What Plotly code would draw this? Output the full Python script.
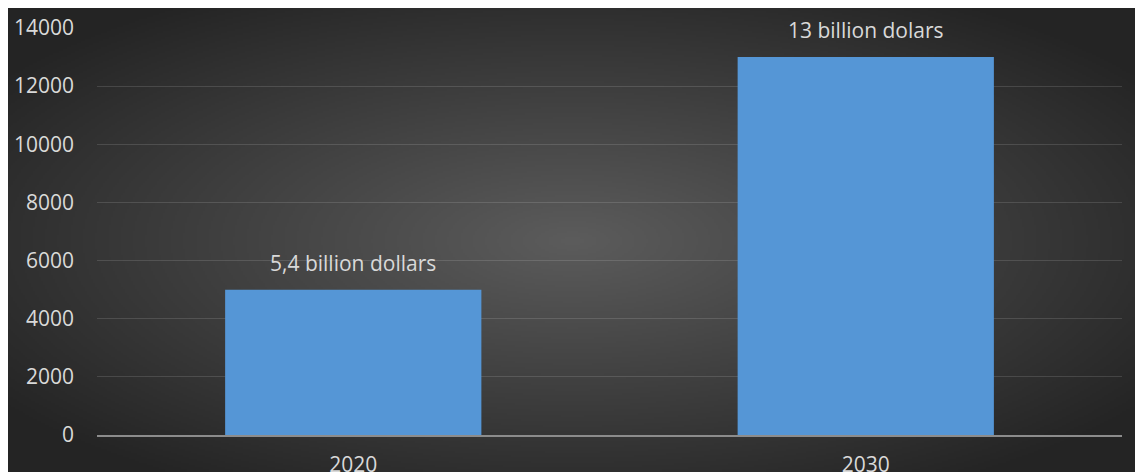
import base64, struct, zlib
import numpy as np
import plotly.graph_objects as go

# ---- data ----
categories = ["2020", "2030"]
values = [5000, 13000]
value_labels = ["5,4 billion dollars", "13 billion dolars"]
y_ticks = [0, 2000, 4000, 6000, 8000, 10000, 12000, 14000]
y_tick_text = [str(v) for v in y_ticks]

# ---- layout geometry (pixels) ----
W, H = 1135, 472
ML, MR, MT, MB = 97, 13, 28, 37
PW, PH = W - ML - MR, H - MT - MB
DARK_X0, DARK_Y0 = 8, 8  # white strip on left/top
FONT = "Open Sans"
FS = 21
TXT = "#d9d9d9"


def png_gray(arr):
    h, w = arr.shape
    raw = b"".join(b"\x00" + arr[i].tobytes() for i in range(h))

    def chunk(t, d):
        c = struct.pack(">I", len(d)) + t + d
        return c + struct.pack(">I", zlib.crc32(t + d) & 0xFFFFFFFF)

    return (b"\x89PNG\r\n\x1a\n"
            + chunk(b"IHDR", struct.pack(">IIBBBBB", w, h, 8, 0, 0, 0, 0))
            + chunk(b"IDAT", zlib.compress(raw, 9))
            + chunk(b"IEND", b""))


# radial background gradient (style only)
gw, gh = (W - DARK_X0) // 2, (H - DARK_Y0) // 2
yy, xx = np.mgrid[0:gh, 0:gw]
dx = (xx - gw / 2) / (gw / 2)
dy = (yy - gh / 2) / (gh / 2)
d = np.clip(np.sqrt(dx ** 2 + dy ** 2) / 1.25, 0, 1)
img = (92 - 56 * d).astype(np.uint8)
bg_uri = "data:image/png;base64," + base64.b64encode(png_gray(img)).decode()

fig = go.Figure()
fig.add_trace(go.Bar(
    x=categories, y=values,
    marker=dict(color="#5596d6", line=dict(width=0)),
    hoverinfo="skip",
))

# annotations placed by category index (avoids "2020" being read as index 2020)
for i, (v, t) in enumerate(zip(values, value_labels)):
    fig.add_annotation(x=i, y=v, text=t, showarrow=False, yshift=27,
                       font=dict(family=FONT, size=FS, color=TXT))

fig.add_layout_image(dict(
    source=bg_uri, xref="paper", yref="paper",
    x=(DARK_X0 - ML) / PW, y=(H - MB - DARK_Y0) / PH,
    sizex=(W - DARK_X0) / PW, sizey=(H - DARK_Y0) / PH,
    xanchor="left", yanchor="top", sizing="stretch", layer="below",
))

fig.update_layout(
    width=W, height=H,
    margin=dict(l=ML, r=MR, t=MT, b=MB, autoexpand=False),
    paper_bgcolor="white", plot_bgcolor="rgba(0,0,0,0)",
    bargap=0.5, showlegend=False,
    font=dict(family=FONT, size=FS, color=TXT),
)
fig.update_xaxes(type="category", range=[-0.5, len(categories) - 0.5], automargin=False,
                 showgrid=False, showline=True, linecolor="#8c8c8c", linewidth=2,
                 ticks="", ticklabelstandoff=10,
                 tickfont=dict(family=FONT, size=FS, color=TXT))
fig.update_yaxes(range=[0, 14000], tickvals=y_ticks, ticktext=y_tick_text,
                 automargin=False, showgrid=True,
                 gridcolor="rgba(255,255,255,0.13)", gridwidth=1,
                 zeroline=False, showline=False, ticks="", ticklabelstandoff=22,
                 tickfont=dict(family=FONT, size=FS, color=TXT))

fig.write_html("out.html")
